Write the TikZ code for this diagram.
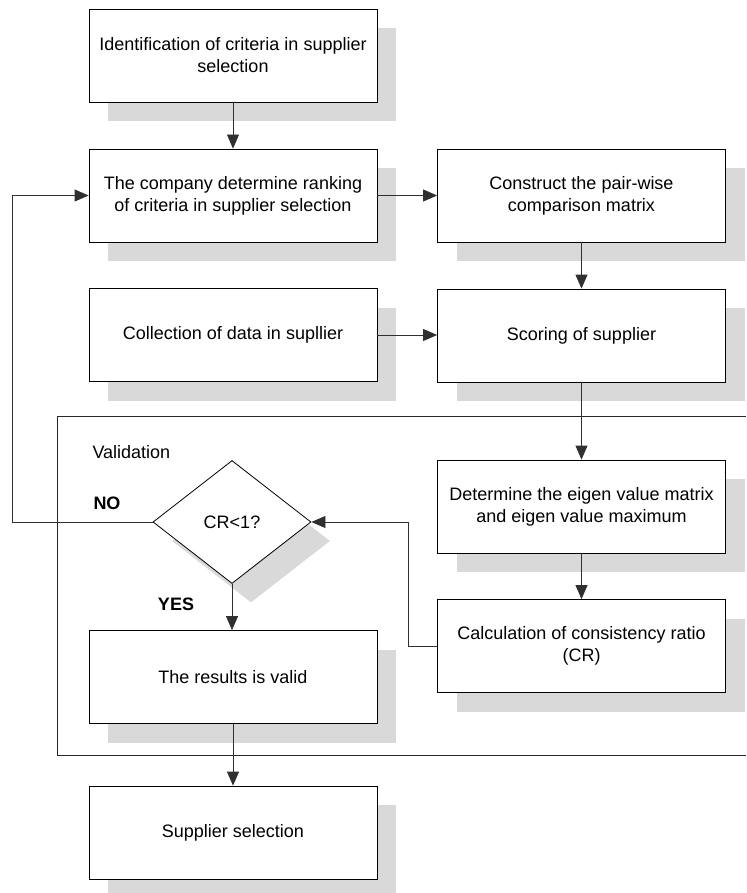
\documentclass[tikz,border=0pt]{standalone}
\usepackage{fontspec}
\setmainfont{Liberation Sans}
\usetikzlibrary{shapes.geometric,shadows,arrows.meta}
\definecolor{shadowgray}{HTML}{D9D9D9}
\definecolor{linegray}{HTML}{303030}
\begin{document}
\begin{tikzpicture}[x=1pt,y=-1pt,
  font=\fontsize{18}{22}\selectfont,
  stepbox/.style={draw=black, line width=0.8pt, fill=white, minimum width=288pt, minimum height=93pt, align=center, inner sep=0pt,
    general shadow={fill=shadowgray, shadow xshift=19pt, shadow yshift=-19pt}},
  decbox/.style={diamond, draw=black, line width=0.8pt, fill=white, minimum width=158pt, minimum height=123pt, inner sep=0pt, aspect=1.28,
    general shadow={fill=shadowgray, shadow xshift=19pt, shadow yshift=-19pt}},
  conn/.style={draw=linegray, line width=0.8pt, -{Triangle[length=14pt,width=12pt]}},
  lbl/.style={font=\fontsize{18}{22}\selectfont\bfseries}
]
\useasboundingbox (0,0) rectangle (746,893);
% validation frame
\draw[line width=0.9pt, draw=black!85] (746,416) -- (57,416) -- (57,755) -- (746,755);
\node[anchor=west] (val) at (89,452) {Validation};

\node[stepbox] (b1) at (233,55.5) {Identification of criteria in supplier\\selection};
\node[stepbox] (b2) at (233,195.5) {The company determine ranking\\of criteria in supplier selection};
\node[stepbox] (b3) at (581.5,195.5) {Construct the pair-wise\\comparison matrix};
\node[stepbox] (b4) at (233,335) {Collection of data in supllier};
\node[stepbox] (b5) at (581.5,335.5) {Scoring of supplier};
\node[stepbox] (b6) at (581.5,506.5) {Determine the eigen value matrix\\and eigen value maximum};
\node[stepbox] (b7) at (581.5,646) {Calculation of consistency ratio\\(CR)};
\node[decbox] (d) at (232,522) {CR<1?};
\node[stepbox] (b8) at (233,677) {The results is valid};
\node[stepbox] (b9) at (233,832.5) {Supplier selection};

\node[lbl] (no) at (107,503) {NO};
\node[lbl] (yes) at (176,604) {YES};

\coordinate (c1) at (408,646);
\coordinate (c2) at (408,522);
\coordinate (c3) at (12,522);
\coordinate (c4) at (12,195.5);

\draw[conn] (b1.south) -- (b2.north);
\draw[conn] (b2.east) -- (b3.west);
\draw[conn] (b3.south) -- (b5.north);
\draw[conn] (b4.east) -- (b5.west |- b4.east);
\draw[conn] (b5.south) -- (b6.north);
\draw[conn] (b6.south) -- (b7.north);
\draw[conn] (b7.west) -- (c1) -- (c2) -- (d.east);
\draw[conn] (d.west) -- (c3) -- (c4) -- (b2.west);
\draw[conn] (d.south) -- (b8.north -| d.south);
\draw[conn] (b8.south) -- (b9.north);
\end{tikzpicture}
\end{document}
